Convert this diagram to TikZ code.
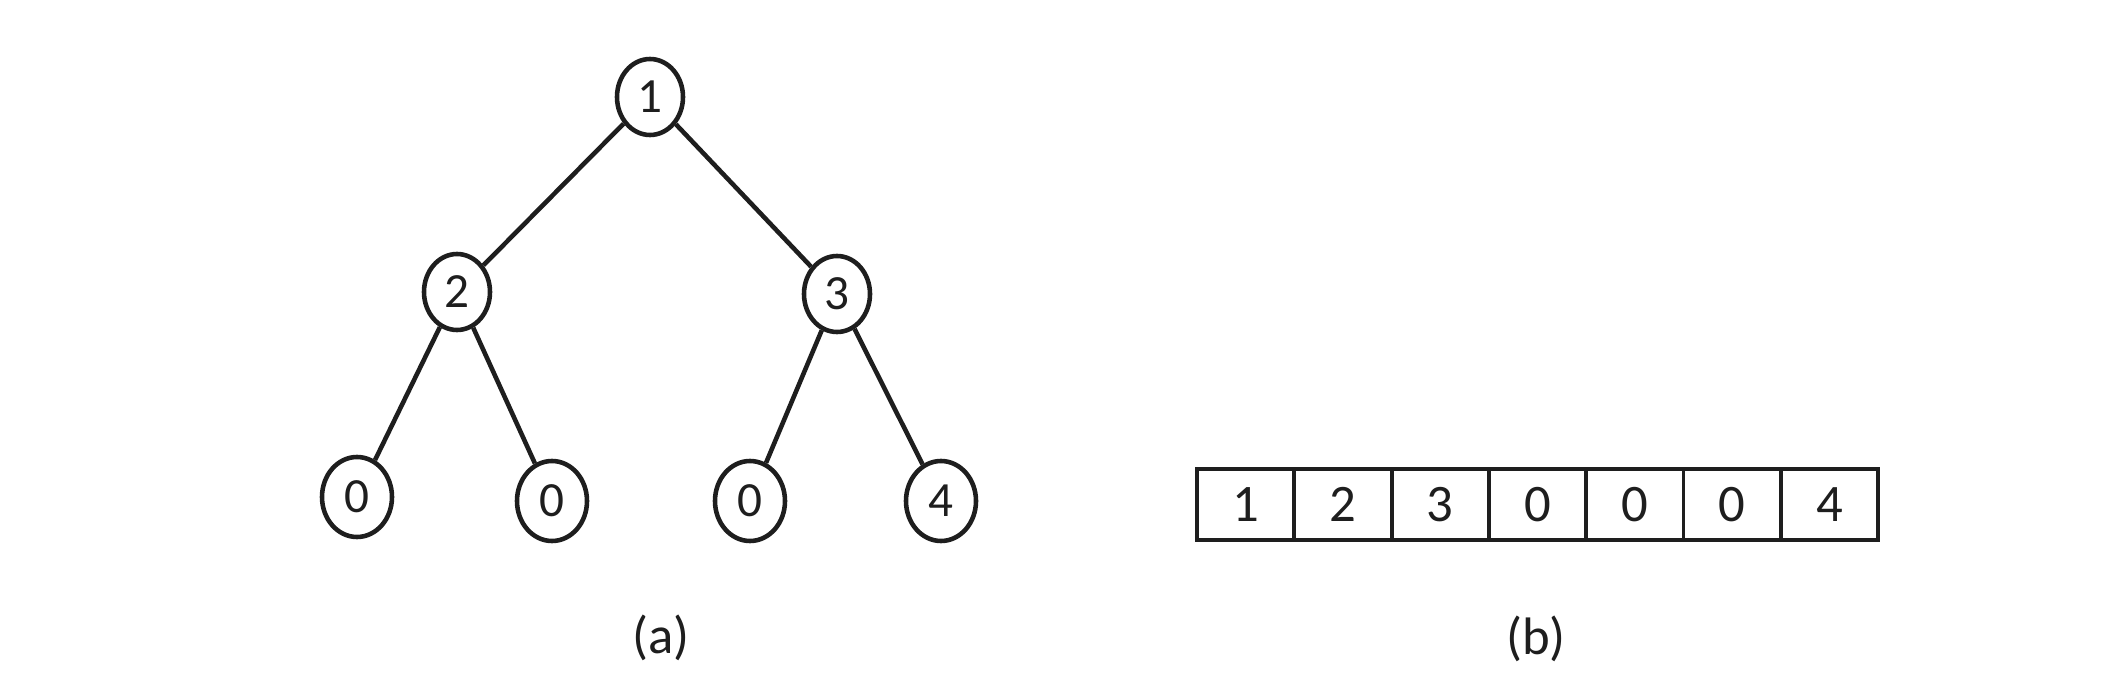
\documentclass[tikz,border=0pt]{standalone}
\usepackage{fontspec}
\setmainfont{Carlito}
\usetikzlibrary{positioning, shapes.geometric}
\definecolor{inkDark}{HTML}{1E1E1E}
\tikzset{
  treeNode/.style={ellipse, draw=inkDark, line width=1.3pt, fill=white,
                   minimum width=0.66cm, minimum height=0.76cm, inner sep=0pt,
                   font=\fontsize{14}{16}\selectfont, text=inkDark},
  leafNode/.style={treeNode, minimum width=0.70cm, minimum height=0.80cm},
  treeEdge/.style={draw=inkDark, line width=1.3pt},
  cellBox/.style={rectangle, draw=inkDark, line width=1.1pt, minimum width=0.973cm,
                  minimum height=0.71cm, inner sep=0pt, outer sep=0pt,
                  font=\fontsize{15}{18}\selectfont, text=inkDark},
  capText/.style={font=\fontsize{15}{18}\selectfont, text=inkDark},
}
\begin{document}
\begin{tikzpicture}
    \useasboundingbox (0,0) rectangle (21.18,6.98);

    % arbol (a)
    \node[treeNode] (n1) at (6.50, 6.01) {1};
    \node[treeNode] (n2) at (4.57, 4.06) {2};
    \node[treeNode] (n3) at (8.37, 4.04) {3};
    \node[leafNode] (n4) at (3.57, 2.01) {0};
    \node[leafNode] (n5) at (5.52, 1.97) {0};
    \node[leafNode] (n6) at (7.50, 1.97) {0};
    \node[leafNode] (n7) at (9.41, 1.97) {4};
    \draw[treeEdge] (n1) -- (n2);
    \draw[treeEdge] (n1) -- (n3);
    \draw[treeEdge] (n2) -- (n4);
    \draw[treeEdge] (n2) -- (n5);
    \draw[treeEdge] (n3) -- (n6);
    \draw[treeEdge] (n3) -- (n7);
    \node[capText] (capA) at (6.61, 0.60) {(a)};

    % arreglo (b)
    \foreach \v [count=\i] in {1,2,3,0,0,0,4}
      \node[cellBox] (c\i) at ({11.97+0.973*(\i-0.5)}, 1.935) {\v};
    \node[capText] (capB) at (15.36, 0.59) {(b)};
\end{tikzpicture}
\end{document}
